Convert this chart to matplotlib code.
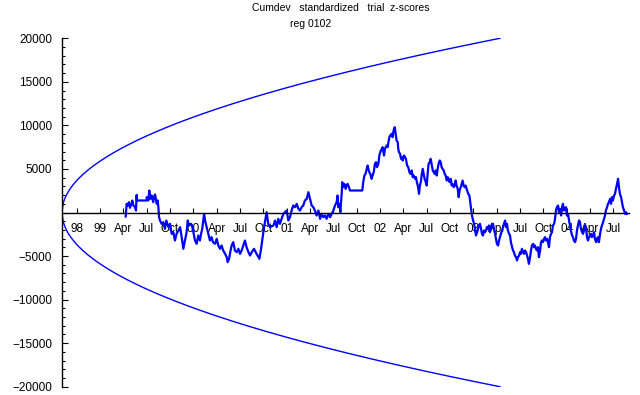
import numpy as np
import matplotlib
matplotlib.use("Agg")
import matplotlib.pyplot as plt
from matplotlib.ticker import MultipleLocator, FixedLocator

# x axis unit: quarters since start of the record
TICK_START = 0.63
TICK_LABELS = ["98", "99", "Apr", "Jul", "Oct", "00", "Apr", "Jul", "Oct",
               "01", "Apr", "Jul", "Oct", "02", "Apr", "Jul", "Oct",
               "03", "Apr", "Jul", "Oct", "04", "Apr", "Jul"]

# probability envelope end point
ENVELOPE_END = 18.77
ENVELOPE_MAX = 20000

# cumulative deviation trace
trace_x = [
    2.73, 2.77, 2.81, 2.87, 2.91, 2.98, 3.01, 3.06, 3.13, 3.17, 3.20, 3.21,
    3.63, 3.63, 3.70, 3.74, 3.79, 3.84, 3.91, 3.96, 3.99, 4.06, 4.10, 4.13,
    4.16, 4.20, 4.27, 4.34, 4.41, 4.47, 4.56, 4.63, 4.70, 4.77, 4.84, 4.91,
    4.99, 5.06, 5.13, 5.20, 5.27, 5.34, 5.39, 5.44, 5.53, 5.59, 5.70, 5.77,
    5.84, 5.91, 5.96, 6.01, 6.09, 6.13, 6.20, 6.27, 6.34, 6.41, 6.47, 6.56,
    6.63, 6.70, 6.77, 6.84, 6.91, 6.99, 7.06, 7.10, 7.16, 7.21, 7.27, 7.34,
    7.41, 7.49, 7.56, 7.63, 7.70, 7.77, 7.84, 7.91, 7.99, 8.06, 8.13, 8.23,
    8.34, 8.46, 8.53, 8.60, 8.66, 8.77, 8.84, 8.91, 9.06, 9.13, 9.20, 9.27,
    9.34, 9.41, 9.49, 9.56, 9.63, 9.70, 9.77, 9.84, 9.91, 9.99, 10.06, 10.13,
    10.20, 10.27, 10.34, 10.41, 10.49, 10.56, 10.63, 10.70, 10.77, 10.84,
    10.91, 10.99, 11.06, 11.13, 11.20, 11.27, 11.34, 11.41, 11.49, 11.56,
    11.63, 11.70, 11.77, 11.81, 11.84, 11.89, 11.93, 11.99, 12.01, 12.06,
    12.10, 12.16, 12.20, 12.24, 12.30, 12.34, 12.87, 12.91, 12.96, 13.01,
    13.06, 13.10, 13.13, 13.17, 13.21, 13.27, 13.31, 13.36, 13.41, 13.46,
    13.50, 13.56, 13.60, 13.64, 13.70, 13.74, 13.80, 13.84, 13.91, 13.96,
    13.99, 14.03, 14.07, 14.13, 14.17, 14.21, 14.26, 14.30, 14.34, 14.39,
    14.41, 14.44, 14.49, 14.53, 14.56, 14.60, 14.66, 14.70, 14.74, 14.79,
    14.84, 14.89, 14.93, 14.99, 15.03, 15.07, 15.13, 15.17, 15.21, 15.26,
    15.30, 15.34, 15.39, 15.41, 15.46, 15.50, 15.54, 15.59, 15.63, 15.67,
    15.71, 15.76, 15.80, 15.84, 15.89, 15.93, 15.97, 16.01, 16.06, 16.10,
    16.14, 16.19, 16.23, 16.27, 16.31, 16.36, 16.40, 16.44, 16.49, 16.53,
    16.57, 16.61, 16.66, 16.70, 16.74, 16.79, 16.83, 16.87, 16.91, 16.96,
    17.00, 17.04, 17.09, 17.13, 17.17, 17.21, 17.26, 17.30, 17.34, 17.39,
    17.41, 17.46, 17.53, 17.56, 17.60, 17.66, 17.70, 17.74, 17.79, 17.83,
    17.87, 17.91, 17.96, 18.00, 18.04, 18.09, 18.13, 18.17, 18.21, 18.26,
    18.30, 18.34, 18.39, 18.43, 18.47, 18.51, 18.56, 18.60, 18.64, 18.69,
    18.73, 18.77, 18.81, 18.86, 18.90, 18.94, 18.99, 19.03, 19.07, 19.11,
    19.16, 19.20, 19.24, 19.29, 19.33, 19.37, 19.41, 19.46, 19.50, 19.54,
    19.59, 19.63, 19.67, 19.71, 19.76, 19.80, 19.84, 19.89, 19.93, 19.97,
    20.01, 20.06, 20.10, 20.14, 20.19, 20.23, 20.27, 20.31, 20.36, 20.40,
    20.44, 20.49, 20.53, 20.57, 20.61, 20.66, 20.70, 20.74, 20.79, 20.83,
    20.87, 20.91, 20.96, 21.00, 21.04, 21.09, 21.13, 21.17, 21.21, 21.26,
    21.30, 21.34, 21.39, 21.43, 21.47, 21.51, 21.56, 21.60, 21.64, 21.69,
    21.73, 21.77, 21.81, 21.86, 21.90, 21.94, 21.99, 22.03, 22.07, 22.11,
    22.16, 22.20, 22.24, 22.29, 22.33, 22.37, 22.41, 22.46, 22.50, 22.54,
    22.59, 22.63, 22.67, 22.71, 22.76, 22.80, 22.84, 22.89, 22.93, 22.97,
    23.01, 23.06, 23.10, 23.14, 23.19, 23.23, 23.27, 23.31, 23.36, 23.40,
    23.44, 23.49, 23.53, 23.57, 23.61, 23.66, 23.70, 23.74, 23.79, 23.83,
    23.87, 23.91, 23.96, 24.00, 24.04, 24.09, 24.13, 24.17, 24.20,
]
trace_y = [
    -459, 995, 804, 1186, 536, 995, 1378, 804, 612, 230, 2028, 1378,
    1378, 1760, 1378, 2526, 1569, 1952, 1186, 1952, 2067, 995, 1378, 612,
    -536, -918, -1301, -1110, -1875, -918, -1684, -1301, -2449, -2258, -3215, -2449,
    -2067, -1684, -2832, -4172, -3215, -2258, -918, -1493, -1301, -1684, -3215, -3597,
    -2641, -3215, -2449, -1875, -153, -918, -1684, -2449, -3215, -2832, -3406, -3597,
    -3024, -3789, -4172, -3789, -4363, -4746, -5128, -5702, -5320, -4554, -3789, -3406,
    -4363, -4554, -4172, -4746, -4363, -3789, -3215, -3980, -4554, -4937, -4555, -4172,
    -4746, -5320, -4172, -2832, -1684, 38, -1301, -1684, -1493, -918, -1684, -727,
    -1301, -727, -153, 38, 230, -918, -536, 230, 804, 612, 995, 421,
    230, 612, 804, 1378, 1569, 2334, 1569, 804, 612, 230,
    -345, 230, -727, -153, -536, -345, -727, -153, -536, -153,
    230, 803, 1186, 1951, 612, 995, 38, 2334, 3482, 2908,
    3291, 2717, 3099, 3291, 2908, 2525, 2525, 3482, 4247, 4439,
    5013, 5396, 5013, 4630, 4439, 3865, 4247, 4630, 5587, 5778,
    5204, 5587, 6544, 6926, 7309, 7501, 6544, 7309, 7692, 7501,
    8075, 8649, 8840, 9031, 8649, 9414, 9797, 9031, 8266, 8075,
    7309, 6926, 6735, 6161, 6352, 5970, 6544, 6352, 6161, 5396,
    5204, 4630, 4439, 4821, 4056, 4247, 3865, 4056, 3482, 2908,
    2143, 3099, 3673, 4247, 5013, 4439, 3865, 3482, 3099, 4439,
    5587, 5778, 6161, 5587, 4821, 4630, 4439, 4821, 4247, 5013,
    5587, 5970, 5778, 5204, 5013, 4821, 4439, 4247, 3673, 4056,
    3865, 3482, 3865, 3099, 3291, 2908, 3099, 3673, 3099, 2717,
    1760, 2525, 2908, 3291, 3673, 3099, 2908, 3099, 2717, 2334,
    2143, 1951, 421, -153, -727, -1301, -1875, -2641, -2258, -1875,
    -1493, -1301, -1875, -2449, -2641, -2067, -2258, -2067, -1684, -1875,
    -1493, -2258, -1875, -1301, -1301, -1875, -2449, -3024, -3597, -3789,
    -3215, -2832, -2449, -2067, -1684, -1301, -918, -1684, -1301, -2067,
    -2449, -2641, -3406, -3980, -4363, -4554, -4937, -5128, -5511, -5128,
    -4937, -4554, -4746, -4172, -4554, -4746, -4363, -4554, -4937, -5320,
    -5894, -5128, -4363, -3789, -3597, -3980, -3789, -4172, -4363, -3980,
    -5128, -4363, -3406, -3215, -3406, -3024, -2832, -3215, -3024, -3406,
    -3980, -2832, -2449, -2258, -1493, -1301, -727, 230, 612, 804,
    38, 421, -345, 612, 995, 230, 421, 612, -345, -153,
    -918, -1493, -2067, -2641, -2832, -3215, -3406, -3024, -2067, -1493,
    -918, -1110, -1875, -2258, -2449, -2067, -1493, -1875, -2832, -3215,
    -2832, -2641, -2449, -2832, -2641, -2258, -3024, -3406, -3024, -2832,
    -3406, -2449, -1875, -1493, -1110, -727, -345, 230, 612, 995,
    1186, 1569, 995, 1760, 1378, 1952, 2143, 2717, 3291, 3865,
    2908, 2143, 1760, 1186, 612, 230, -153, 38, -153,
]

BLUE = "#0000ff"
FONT = ["Liberation Sans", "DejaVu Sans"]

fig = plt.figure(figsize=(6.4, 3.95), dpi=100)
ax = fig.add_axes([62 / 640, 8.3 / 395, 567 / 640, 348.4 / 395])

# envelope
env_x = np.linspace(0, ENVELOPE_END, 400)
env_y = ENVELOPE_MAX * np.sqrt(env_x / ENVELOPE_END)
ax.plot(env_x, env_y, color=BLUE, lw=1.0)
ax.plot(env_x, -env_y, color=BLUE, lw=1.0)

ax.plot(trace_x, trace_y, color=BLUE, lw=1.6)

ax.set_xlim(0, 24.3)
ax.set_ylim(-20000, 20000)

for s in ("top", "right"):
    ax.spines[s].set_visible(False)
ax.spines["bottom"].set_position(("data", 0))
ax.spines["left"].set_linewidth(1.0)
ax.spines["bottom"].set_linewidth(1.0)

xt = [TICK_START + k for k in range(len(TICK_LABELS))]
ax.xaxis.set_major_locator(FixedLocator(xt))
ax.set_xticklabels(TICK_LABELS, fontsize=8.5, family=FONT)
ax.tick_params(axis="x", direction="in", length=3.5, width=0.8, pad=7.5)

yt = [v for v in range(-20000, 20001, 5000)]
ax.yaxis.set_major_locator(FixedLocator(yt))
ax.set_yticklabels(["\u2212" + str(-v) if v < 0 else ("" if v == 0 else str(v)) for v in yt],
                   fontsize=8.5, family=FONT)
ax.yaxis.set_minor_locator(MultipleLocator(1000))
ax.tick_params(axis="y", which="major", direction="in", length=4.5, width=0.8, pad=7)
ax.tick_params(axis="y", which="minor", direction="in", length=2.5, width=0.8)

fig.text(340.5 / 640, 1 - 8 / 395, "Cumdev   standardized   trial  z-scores",
         ha="center", va="center", fontsize=7.5, family=FONT)
fig.text(311 / 640, 1 - 24 / 395, "reg 0102",
         ha="center", va="center", fontsize=7.5, family=FONT)

fig.savefig("out.png", dpi=100)
